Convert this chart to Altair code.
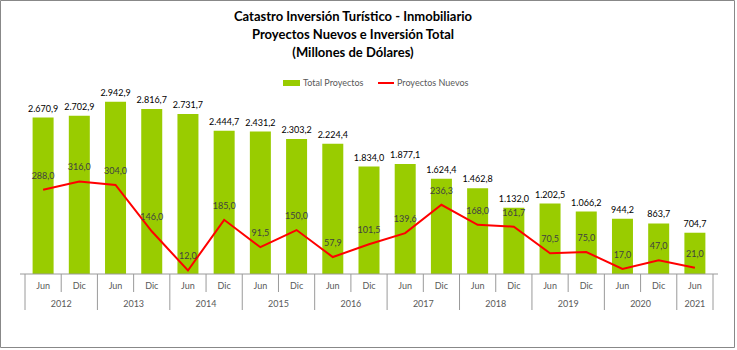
import altair as alt
import pandas as pd

years = ["2012", "2012", "2013", "2013", "2014", "2014", "2015", "2015", "2016", "2016",
         "2017", "2017", "2018", "2018", "2019", "2019", "2020", "2020", "2021"]
halves = ["Jun", "Dic", "Jun", "Dic", "Jun", "Dic", "Jun", "Dic", "Jun", "Dic",
          "Jun", "Dic", "Jun", "Dic", "Jun", "Dic", "Jun", "Dic", "Jun"]
total = [2670.9, 2702.9, 2942.9, 2816.7, 2731.7, 2444.7, 2431.2, 2303.2, 2224.4, 1834.0,
         1877.1, 1624.4, 1462.8, 1132.0, 1202.5, 1066.2, 944.2, 863.7, 704.7]
nuevos = [288.0, 316.0, 304.0, 146.0, 12.0, 185.0, 91.5, 150.0, 57.9, 101.5,
          139.6, 236.3, 168.0, 161.7, 70.5, 75.0, 17.0, 47.0, 21.0]
title_lines = ["Catastro Inversión Turístico - Inmobiliario",
               "Proyectos Nuevos e Inversión Total",
               "(Millones de Dólares)"]
legend_labels = ["Total Proyectos", "Proyectos Nuevos"]


def fmt(v):
    s = f"{v:,.1f}"
    return s.replace(",", "X").replace(".", ",").replace("X", ".")


n = len(total)
df = pd.DataFrame({
    "i": list(range(n)), "year": years, "half": halves,
    "total": total, "nuevos": nuevos,
    "tl": [fmt(v) for v in total], "nl": [fmt(v) for v in nuevos],
})

# year group centres
ydf = df.groupby("year", as_index=False)["i"].mean()

# boundaries between categories
short_b, long_b = [], [-0.5]
for k in range(n):
    b = k + 0.5
    if k == n - 1 or years[k] != years[k + 1]:
        long_b.append(b)
    else:
        short_b.append(b)
sdf = pd.DataFrame({"b": short_b})
ldf = pd.DataFrame({"b": long_b})

F = "Lato"
W, H = 698, 205
GRID = "#9a9a9a"
LAB = "#595959"

xs = alt.Scale(domain=[-0.5, n - 0.5], nice=False, zero=False)
X = alt.X("i:Q", scale=xs, axis=None)
yL = alt.Scale(domain=[0, 3500], nice=False)
yR = alt.Scale(domain=[0, 700], nice=False)

bars = alt.Chart(df).mark_bar(size=21, color="#99CC00").encode(
    x=X, y=alt.Y("total:Q", scale=yL, axis=None))
barlab = alt.Chart(df).mark_text(baseline="bottom", dy=-4, fontSize=9, font=F, color="#000000").encode(
    x=X, y=alt.Y("total:Q", scale=yL, axis=None), text="tl:N")

line = alt.Chart(df).mark_line(color="#FF0000", strokeWidth=2).encode(
    x=X, y=alt.Y("nuevos:Q", scale=yR, axis=None))
linelab = alt.Chart(df).mark_text(baseline="bottom", dy=-9, fontSize=9, font=F, color="#404040").encode(
    x=X, y=alt.Y("nuevos:Q", scale=yR, axis=None), text="nl:N")

one = alt.Data(values=[{"k": 0}])
axisline = alt.Chart(one).mark_rule(color=GRID, strokeWidth=1).encode(
    x=alt.value(0), x2=alt.value(W), y=alt.value(H))
sticks = alt.Chart(sdf).mark_rule(color=GRID, strokeWidth=1).encode(
    x=alt.X("b:Q", scale=xs, axis=None), y=alt.value(H), y2=alt.value(H + 18))
lticks = alt.Chart(ldf).mark_rule(color=GRID, strokeWidth=1).encode(
    x=alt.X("b:Q", scale=xs, axis=None), y=alt.value(H), y2=alt.value(H + 36))
halflab = alt.Chart(df).mark_text(fontSize=9, font=F, color=LAB, baseline="middle").encode(
    x=X, y=alt.value(H + 12), text="half:N")
yearlab = alt.Chart(ydf).mark_text(fontSize=9, font=F, color=LAB, baseline="middle").encode(
    x=alt.X("i:Q", scale=xs, axis=None), y=alt.value(H + 30), text="year:N")

# title (three centred lines)
titles = [
    alt.Chart(one).mark_text(fontSize=13, font=F, fontWeight="bold", color="#000000",
                             align="center", baseline="middle").encode(
        x=alt.value(333), y=alt.value(yy), text=alt.value(t))
    for t, yy in zip(title_lines, [-52, -34, -16])
]

# legend
leg_sw = alt.Chart(one).mark_rect(color="#99CC00").encode(
    x=alt.value(263), x2=alt.value(280), y=alt.value(11), y2=alt.value(17))
leg_t1 = alt.Chart(one).mark_text(fontSize=9, font=F, color=LAB, align="left", baseline="middle").encode(
    x=alt.value(283), y=alt.value(14), text=alt.value(legend_labels[0]))
leg_ln = alt.Chart(one).mark_rule(color="#FF0000", strokeWidth=2).encode(
    x=alt.value(358), x2=alt.value(374), y=alt.value(14))
leg_t2 = alt.Chart(one).mark_text(fontSize=9, font=F, color=LAB, align="left", baseline="middle").encode(
    x=alt.value(377), y=alt.value(14), text=alt.value(legend_labels[1]))

border = alt.Chart(one).mark_rect(fill="transparent", stroke="#888888", strokeWidth=1).encode(
    x=alt.value(-19.5), x2=alt.value(714.5), y=alt.value(-68.5), y2=alt.value(278.5))

chart = alt.layer(
    border, bars, barlab, line, linelab, axisline, sticks, lticks, halflab, yearlab,
    leg_sw, leg_t1, leg_ln, leg_t2, *titles,
).resolve_scale(y="independent").properties(
    width=W, height=H,
    background="white",
    autosize=alt.AutoSizeParams(type="none"),
    padding={"left": 20, "top": 69, "right": 19, "bottom": 76},
).configure_view(stroke="transparent")

chart.save("out.html", embed_options={"renderer": "svg", "actions": False})
